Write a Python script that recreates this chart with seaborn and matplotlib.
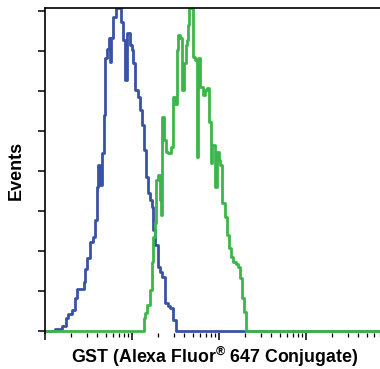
import numpy as np
import pandas as pd
import matplotlib
matplotlib.use('Agg')
import matplotlib.pyplot as plt
import seaborn as sns
from matplotlib.ticker import LogLocator, NullFormatter, MultipleLocator

# flow histogram, log10 of fluorescence vs events
blue_log = [0.0, 0.115, 0.195, 0.241, 0.264, 0.310, 0.345, 0.368, 0.414, 0.448, 0.460,
            0.483, 0.517, 0.552, 0.575, 0.598, 0.609, 0.632, 0.655, 0.678, 0.690,
            0.713, 0.736, 0.747, 0.759, 0.782, 0.816, 0.851, 0.874, 0.897, 0.920,
            0.943, 0.977, 1.000, 1.011, 1.034, 1.069, 1.092, 1.115, 1.138, 1.161,
            1.184, 1.207, 1.230, 1.241, 1.264, 1.299, 1.322, 1.345, 1.379, 1.414,
            1.437, 1.471, 1.506, 3.85]
blue_events = [0, 1, 2.5, 6.5, 8.5, 10.5, 16.5, 21, 21, 24.5, 31,
               36.5, 44.5, 47, 55.5, 72, 83, 73, 89, 108, 136.5,
               141, 146.5, 134.5, 146.5, 157, 161.5, 161.5, 154.5, 145.5, 125.5,
               149, 143, 140.5, 134, 120.5, 117, 110.5, 103, 90.5, 77,
               69, 65.5, 62, 50.5, 43, 32, 29.5, 27, 14, 12.5,
               11.5, 5.5, 0, 0]

green_log = [0.0, 1.115, 1.138, 1.149, 1.172, 1.207, 1.230, 1.241, 1.264, 1.276, 1.299,
             1.322, 1.333, 1.345, 1.368, 1.391, 1.414, 1.448, 1.471, 1.494, 1.517,
             1.529, 1.552, 1.575, 1.598, 1.621, 1.632, 1.644, 1.655, 1.690, 1.701,
             1.724, 1.747, 1.759, 1.782, 1.816, 1.839, 1.862, 1.885, 1.908, 1.920,
             1.954, 1.977, 2.000, 2.011, 2.034, 2.069, 2.092, 2.115, 2.138, 2.161,
             2.195, 2.218, 2.241, 2.264, 2.287, 2.310, 3.85]
green_events = [0, 0, 6.5, 9, 13, 20.5, 34.5, 47, 54, 75.5, 78,
                65.5, 58, 107, 95.5, 89.5, 89, 92, 117, 113.5, 140.5,
                148, 146.5, 120.5, 134, 143, 145.5, 153, 161.5, 161.5, 137,
                135.5, 87, 136.5, 122, 118, 120.5, 121.5, 104.5, 84, 93,
                72, 89.5, 85.5, 83, 64, 57, 48, 41.5, 37, 34.5,
                33.5, 32, 26.5, 16.5, 9.5, 0, 0]

blue_color = '#3953a4'
green_color = '#3cb54a'

sns.set_theme(style='ticks')
plt.rcParams['font.family'] = ['Liberation Sans', 'DejaVu Sans']
plt.rcParams['mathtext.fontset'] = 'custom'
plt.rcParams['mathtext.rm'] = 'Liberation Sans:bold'
plt.rcParams['xtick.bottom'] = True
plt.rcParams['ytick.left'] = True
plt.rcParams['text.color'] = 'black'
plt.rcParams['axes.labelcolor'] = 'black'

blue = pd.DataFrame({'fl': np.power(10.0, blue_log), 'events': blue_events})
green = pd.DataFrame({'fl': np.power(10.0, green_log), 'events': green_events})

fig = plt.figure(figsize=(3.8, 3.69), dpi=100)
ax = fig.add_axes([45/380, 36/369, 1 - 45/380, 325/369])

sns.lineplot(data=blue, x='fl', y='events', ax=ax, color=blue_color, lw=2.0,
             drawstyle='steps-post', estimator=None, sort=False)
sns.lineplot(data=green, x='fl', y='events', ax=ax, color=green_color, lw=2.0,
             drawstyle='steps-post', estimator=None, sort=False)

ax.set_xscale('log')
ax.set_xlim(1, 10**3.85)
ax.set_ylim(-1, 161.5)
ax.xaxis.set_major_locator(LogLocator(base=10))
ax.xaxis.set_minor_locator(LogLocator(base=10, subs=np.arange(2, 10)))
ax.xaxis.set_major_formatter(NullFormatter())
ax.xaxis.set_minor_formatter(NullFormatter())
ax.yaxis.set_major_locator(MultipleLocator(20))
ax.yaxis.set_major_formatter(NullFormatter())

ax.tick_params(axis='both', which='major', direction='out', length=5, width=1.1,
               color='black', bottom=True, left=True)
ax.tick_params(axis='x', which='minor', direction='out', length=3, width=0.9,
               color='black', bottom=True)

for side in ['left', 'top']:
    ax.spines[side].set_visible(True)
    ax.spines[side].set_color('black')
    ax.spines[side].set_linewidth(1.2)
ax.spines['right'].set_visible(False)
ax.spines['bottom'].set_visible(False)

ax.set_ylabel('Events', fontsize=13, fontweight='bold')
ax.set_xlabel(r'GST (Alexa Fluor$^{®}$ 647 Conjugate)', fontsize=12.8,
              fontweight='bold')
ax.xaxis.set_label_coords((215 - 45) / 335, -12 / 325)
ax.yaxis.set_label_coords(-20 / 335, (333 - 170) / 325)

fig.savefig('out.png', dpi=100)
